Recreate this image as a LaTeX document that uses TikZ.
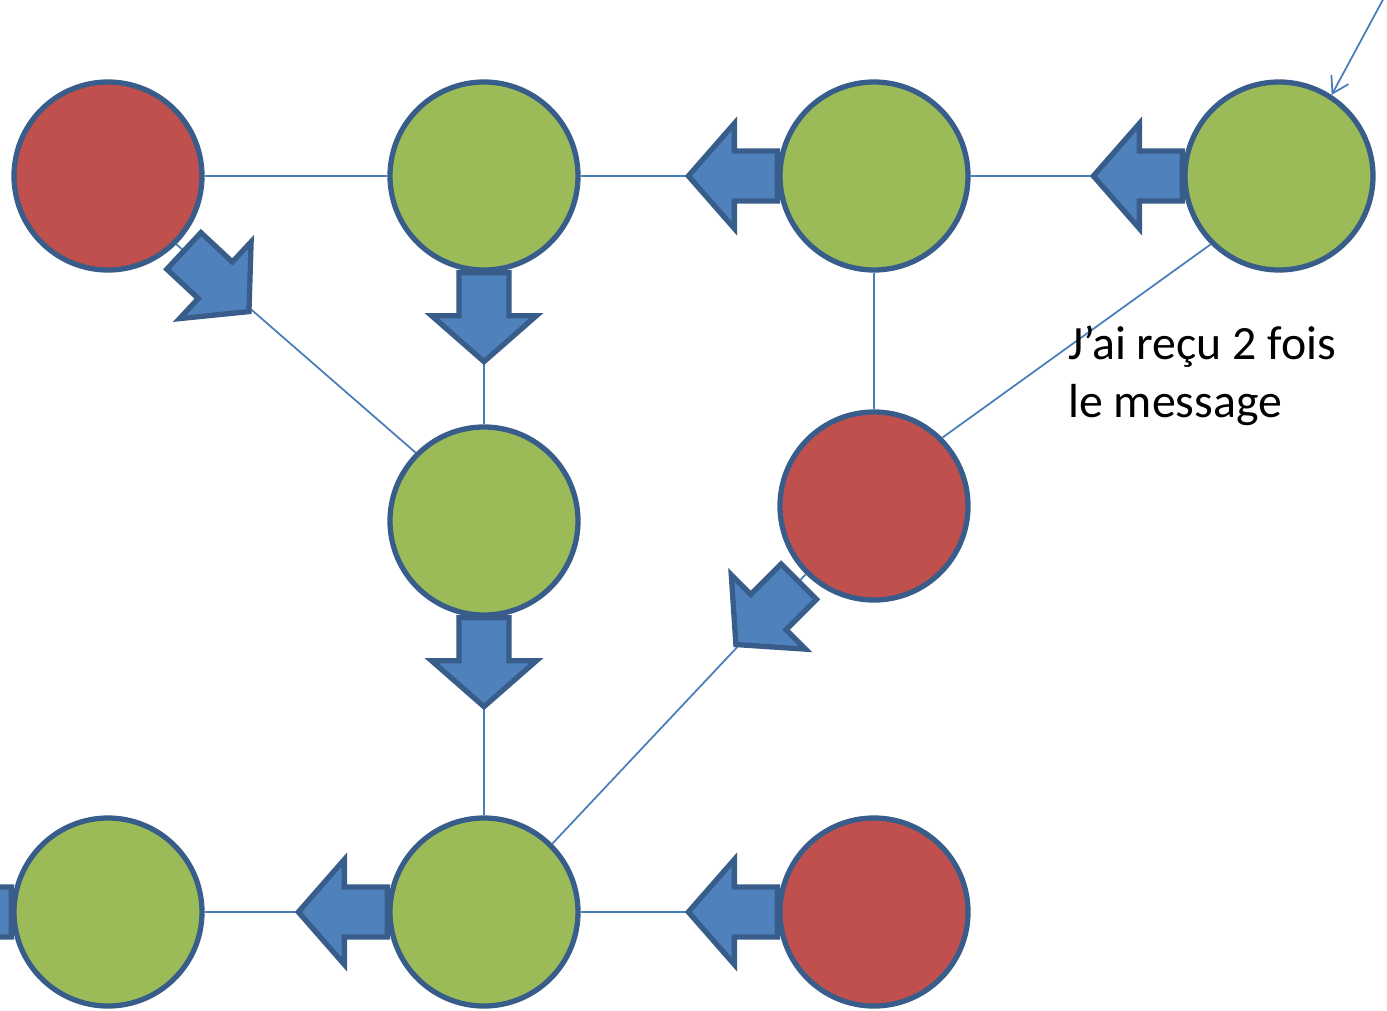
\documentclass[tikz,border=0pt]{standalone}
\usepackage{fontspec}
\setmainfont{Carlito}
\usepackage{xcolor}
\definecolor{leaf}{HTML}{9BBB59}
\definecolor{brick}{HTML}{C0504D}
\definecolor{rim}{HTML}{385D8A}
\definecolor{flow}{HTML}{4F81BD}
\definecolor{wireblue}{HTML}{4A7EBB}
\usepackage{tikz}
\usetikzlibrary{calc,backgrounds,arrows.meta}

\tikzset{
  pics/blkarrow/.style={code={
    \draw[fill=flow, draw=rim, line width=3pt]
      (0,-0.5) -- (0.86,-0.5) -- (0.86,-1.05) -- (1.78,0)
      -- (0.86,1.05) -- (0.86,0.5) -- (0,0.5) -- cycle;
  }}
}

\begin{document}
\begin{tikzpicture}[
  font=\fontsize{27.2}{32.6}\selectfont,
  good/.style={circle, draw=rim, line width=3pt, fill=leaf,
               minimum size=3.76cm, inner sep=0pt},
  bad/.style={good, fill=brick},
  wire/.style={draw=wireblue, line width=1pt},
  msgtext/.style={align=left, inner sep=0pt, anchor=base west}
]
  \useasboundingbox (0,0) rectangle (27.74,-20.2);
  \clip (0,0) rectangle (27.74,-20.2);

  \node[bad]  (tl)   at ( 2.16, -3.52) {};
  \node[good] (tm)   at ( 9.68, -3.52) {};
  \node[good] (tr)   at (17.48, -3.52) {};
  \node[good] (te)   at (25.58, -3.52) {};
  \node[good] (mid)  at ( 9.68,-10.42) {};
  \node[bad]  (rmid) at (17.48,-10.12) {};
  \node[good] (bl)   at ( 2.16,-18.24) {};
  \node[good] (bm)   at ( 9.68,-18.24) {};
  \node[bad]  (br)   at (17.48,-18.24) {};

  \node[msgtext] (msg) at (21.36,-8.34) {J’ai reçu 2 fois\\le message};

  \coordinate (in) at (27.72,0.12);
  \draw[wire, -{Straight Barb[length=9pt,width=11pt]}] (in) -- (te.57);

  \begin{scope}[on background layer]
    \draw[wire] (tl) -- (tm);
    \draw[wire] (tm) -- (tr);
    \draw[wire] (tr) -- (te);
    \draw[wire] (tl.-45) -- (mid.135);
    \draw[wire] (tm) -- (mid);
    \draw[wire] (tr) -- (rmid);
    \draw[wire] (te.225) -- (rmid.45);
    \draw[wire] (mid) -- (bm);
    \draw[wire] (rmid.225) -- (bm.45);
    \draw[wire] (bl) -- (bm);
    \draw[wire] (bm) -- (br);

    % message flow
    \pic[rotate=180] at (tr.west) {blkarrow};
    \pic[rotate=180] at (te.west) {blkarrow};
    \pic[rotate=-90] at (tm.south) {blkarrow};
    \pic[rotate=-90] at (mid.south) {blkarrow};
    \pic[rotate=-43] at ($(tl.-45)!0.2cm!(mid.135)$) {blkarrow};
    \pic[rotate=225] at ($(rmid.225)!0.2cm!(bm.45)$) {blkarrow};
    \pic[rotate=180] at (bm.west) {blkarrow};
    \pic[rotate=180] at (br.west) {blkarrow};
    \pic[rotate=180] at (bl.west) {blkarrow};
  \end{scope}
\end{tikzpicture}
\end{document}
